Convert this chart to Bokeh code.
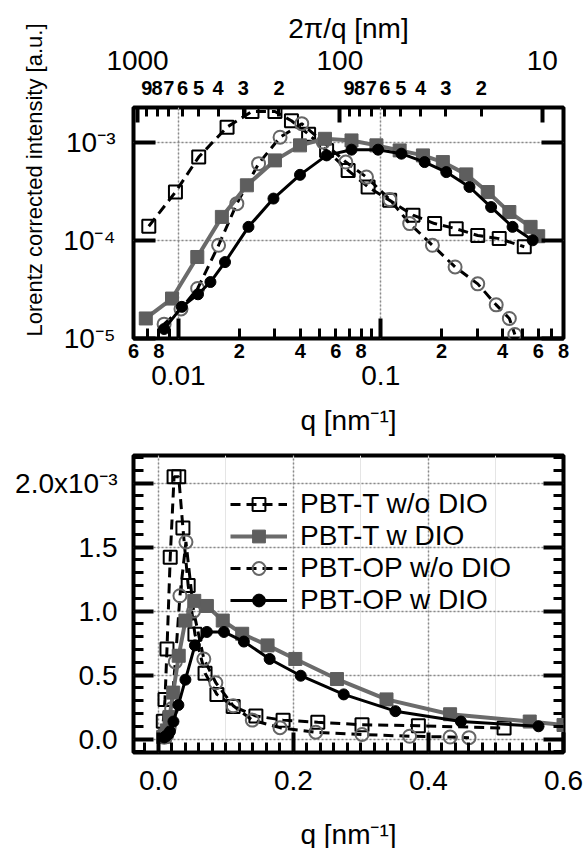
import math
from bokeh.plotting import figure
from bokeh.layouts import column
from bokeh.models import (LogAxis, LinearAxis, FixedTicker, CustomJSTickFormatter, Grid,
                          Legend, LegendItem, Range1d, Title)
from bokeh.embed import file_html
from bokeh.resources import INLINE

# ---------------- data (q in nm^-1, Lorentz corrected intensity in a.u.) ----------------
series_names = ["PBT-T w/o DIO", "PBT-T w DIO", "PBT-OP w/o DIO", "PBT-OP w DIO"]

q_t_wo = [0.00714, 0.00967, 0.0126, 0.0174, 0.0231, 0.0300, 0.0362, 0.0440, 0.0540, 0.0690,
          0.0866, 0.1107, 0.1443, 0.1846, 0.236, 0.3015, 0.385, 0.512]
I_t_wo = [1.39e-4, 3.10e-4, 7.04e-4, 1.42e-3, 2.05e-3, 2.05e-3, 1.65e-3, 1.20e-3, 8.2e-4, 5.15e-4,
          3.49e-4, 2.55e-4, 1.80e-4, 1.48e-4, 1.31e-4, 1.12e-4, 1.04e-4, 8.6e-5]

q_t_w = [0.0069, 0.0093, 0.0124, 0.0164, 0.0218, 0.0300, 0.0399, 0.0530, 0.0717, 0.0952,
         0.124, 0.1616, 0.2027, 0.2644, 0.3378, 0.432, 0.55, 0.60]
I_t_w = [1.6e-5, 2.55e-5, 6.76e-5, 1.73e-4, 3.63e-4, 6.51e-4, 9.26e-4, 1.08e-3, 1.04e-3, 9.26e-4,
         8.23e-4, 7.32e-4, 6.26e-4, 4.69e-4, 3.10e-4, 1.94e-4, 1.37e-4, 1.1e-4]

q_op_wo = [0.0085, 0.0103, 0.01245, 0.0158, 0.01945, 0.0249, 0.0318, 0.0407, 0.052, 0.0672,
           0.085, 0.1107, 0.139, 0.180, 0.233, 0.3015, 0.372, 0.432, 0.46]
I_op_wo = [1.4e-5, 2.0e-5, 3.23e-5, 8.9e-5, 2.36e-4, 6.03e-4, 1.12e-3, 1.54e-3, 1.0e-3, 6.26e-4,
           4.4e-4, 2.6e-4, 1.48e-4, 8.9e-5, 5.35e-5, 3.6e-5, 2.2e-5, 1.6e-5, 1.1e-5]

q_op_w = [0.0085, 0.0104, 0.0125, 0.0144, 0.0170, 0.0222, 0.0295, 0.0399, 0.0540, 0.0717,
          0.0970, 0.1265, 0.1647, 0.2107, 0.2744, 0.351, 0.448, 0.563]
I_op_w = [1.25e-5, 2.1e-5, 2.82e-5, 3.76e-5, 6.0e-5, 1.37e-4, 2.66e-4, 4.64e-4, 7.32e-4, 8.37e-4,
          8.37e-4, 7.62e-4, 6.26e-4, 4.95e-4, 3.49e-4, 2.18e-4, 1.37e-4, 1.0e-4]

# ---------------- ticks / tick labels ----------------
log_x_major = [0.01, 0.1]
log_x_major_labels = ["0.01", "0.1"]
log_x_minor = [0.006, 0.007, 0.008, 0.009, 0.02, 0.03, 0.04, 0.05, 0.06, 0.07, 0.08, 0.09,
               0.2, 0.3, 0.4, 0.5, 0.6, 0.7, 0.8]
log_x_minor_label_pos = [0.006, 0.008, 0.02, 0.04, 0.06, 0.08, 0.2, 0.4, 0.6, 0.8]
log_x_minor_labels = ["6", "8", "2", "4", "6", "8", "2", "4", "6", "8"]

top_major_nm = [1000, 100, 10]
top_major_labels = ["1000", "100", "10"]
top_minor_nm = [900, 800, 700, 600, 500, 400, 300, 200, 90, 80, 70, 60, 50, 40, 30, 20]
top_minor_labels = ["9", "8", "7", "6", "5", "4", "3", "2", "9", "8", "7", "6", "5", "4", "3", "2"]

log_y_ticks = [1e-5, 1e-4, 1e-3]
log_y_labels = ["10\u207b\u2075", "10\u207b\u2074", "10\u207b\u00b3"]

lin_x_ticks = [0.0, 0.2, 0.4, 0.6]
lin_x_labels = ["0.0", "0.2", "0.4", "0.6"]
lin_x_minor = [round(-0.02 + 0.02 * i, 2) for i in range(32)]
lin_y_ticks = [0.0, 0.5e-3, 1.0e-3, 1.5e-3, 2.0e-3]
lin_y_labels = ["0.0", "0.5", "1.0", "1.5", "2.0x10\u207b\u00b3"]
lin_y_minor = [round(-0.1e-3 + 0.1e-3 * i, 6) for i in range(24)]

FONT = "Liberation Sans"
GRID = dict(grid_line_color="#8a8a8a", grid_line_dash="2 2", grid_line_width=1.5)


def label_formatter(labels):
    return CustomJSTickFormatter(args=dict(labels=labels), code="return labels[index];")


def make_axis(cls, ticks, minor=(), labels=None, major_in=0, minor_in=0, size="28px",
              bold=False, standoff=0, axis_label=None, axis_label_standoff=0):
    ax = cls(ticker=FixedTicker(ticks=list(ticks), minor_ticks=list(minor)),
             formatter=label_formatter(labels if labels is not None else [""] * len(ticks)))
    ax.axis_line_color = None
    ax.major_tick_in = major_in
    ax.major_tick_out = 0
    ax.minor_tick_in = minor_in
    ax.minor_tick_out = 0
    ax.major_tick_line_width = 4 if major_in else 0
    ax.minor_tick_line_width = 3 if minor_in else 0
    ax.major_tick_line_color = "black" if major_in else None
    ax.minor_tick_line_color = "black" if minor_in else None
    ax.major_label_text_font = FONT
    ax.major_label_text_font_size = size if labels is not None else "0px"
    ax.major_label_text_font_style = "bold" if bold else "normal"
    ax.major_label_text_color = "black"
    ax.major_label_standoff = standoff
    if axis_label:
        ax.axis_label = axis_label
        ax.axis_label_standoff = axis_label_standoff
        ax.axis_label_text_font = FONT
        ax.axis_label_text_font_size = "28px"
        ax.axis_label_text_font_style = "normal"
        ax.axis_label_text_color = "black"
    return ax


def base_style(p):
    p.outline_line_color = "black"
    p.outline_line_width = 4
    p.background_fill_color = "white"
    p.border_fill_color = "white"


def draw_series(p):
    r = {}
    r["l1"] = p.line(q_t_wo, I_t_wo, line_color="black", line_width=3, line_dash="10 6")
    r["m1"] = p.scatter(q_t_wo, I_t_wo, marker="square", size=13, fill_color=None,
                        line_color="black", line_width=2)
    r["l3"] = p.line(q_op_wo, I_op_wo, line_color="black", line_width=3, line_dash="10 6")
    r["m3"] = p.scatter(q_op_wo, I_op_wo, marker="circle", size=13, fill_color=None,
                        line_color="#666666", line_width=2)
    r["l2"] = p.line(q_t_w, I_t_w, line_color="#6b6b6b", line_width=4)
    r["m2"] = p.scatter(q_t_w, I_t_w, marker="square", size=13, fill_color="#5e5e5e",
                        line_color="#5e5e5e")
    r["l4"] = p.line(q_op_w, I_op_w, line_color="black", line_width=3)
    r["m4"] = p.scatter(q_op_w, I_op_w, marker="circle", size=11, fill_color="black",
                        line_color="black")
    return r


# ================= top panel: log-log =================
X1 = (0.006, 0.8)
Y1 = (1.0e-5, 2.25e-3)
p1 = figure(x_axis_type="log", y_axis_type="log", x_range=Range1d(*X1), y_range=Range1d(*Y1),
            frame_width=430, frame_height=231, min_border_left=133, min_border_right=20,
            min_border_top=107, min_border_bottom=100, x_axis_location=None, y_axis_location=None,
            toolbar_location=None, output_backend="svg")
base_style(p1)
p1.add_layout(Grid(dimension=0, ticker=FixedTicker(ticks=log_x_major), **GRID))
p1.add_layout(Grid(dimension=1, ticker=FixedTicker(ticks=log_y_ticks[1:]), **GRID))

# bottom (q) axis: tick marks, minor-value row, decade row + title
p1.add_layout(make_axis(LogAxis, log_x_major, log_x_minor, major_in=20, minor_in=10), "below")
p1.add_layout(make_axis(LogAxis, log_x_minor_label_pos, labels=log_x_minor_labels, size="20px",
                        bold=True, standoff=5), "below")
p1.add_layout(make_axis(LogAxis, log_x_major, labels=log_x_major_labels, standoff=5,
                        axis_label="q [nm\u207b\u00b9]", axis_label_standoff=17), "below")

# top (2pi/q) axis
top_major_q = [2 * math.pi / n for n in top_major_nm]
top_minor_q = [2 * math.pi / n for n in top_minor_nm]
p1.add_layout(make_axis(LogAxis, top_major_q, top_minor_q, major_in=15, minor_in=9), "above")
p1.add_layout(make_axis(LogAxis, top_minor_q, labels=top_minor_labels, size="20px", bold=True,
                        standoff=13), "above")
p1.add_layout(make_axis(LogAxis, top_major_q, labels=top_major_labels, standoff=8,
                        axis_label="2\u03c0/q [nm]", axis_label_standoff=4), "above")

# left / right intensity axes
p1.add_layout(make_axis(LogAxis, log_y_ticks, labels=log_y_labels, major_in=22, standoff=18),
              "left")
p1.add_layout(make_axis(LogAxis, log_y_ticks, major_in=22), "right")
p1.add_layout(Title(text="Lorentz corrected intensity [a.u.]", align="right", offset=-84,
                    standoff=28, text_font=FONT, text_font_size="22px",
                    text_font_style="normal", text_color="black"), "left")

draw_series(p1)

# ================= bottom panel: linear =================
X2 = (-0.037, 0.6)
Y2 = (-0.105e-3, 2.216e-3)
p2 = figure(x_range=Range1d(*X2), y_range=Range1d(*Y2),
            frame_width=430, frame_height=297, min_border_left=133, min_border_right=20,
            min_border_top=17, min_border_bottom=94, x_axis_location=None, y_axis_location=None,
            toolbar_location=None, output_backend="svg")
base_style(p2)
p2.add_layout(Grid(dimension=0, ticker=FixedTicker(ticks=lin_x_ticks[:3]), **GRID))
p2.add_layout(Grid(dimension=1, ticker=FixedTicker(ticks=lin_y_ticks), **GRID))

p2.add_layout(make_axis(LinearAxis, lin_x_ticks, lin_x_minor, labels=lin_x_labels, major_in=20,
                        minor_in=10, standoff=18, axis_label="q [nm\u207b\u00b9]",
                        axis_label_standoff=26), "below")
p2.add_layout(make_axis(LinearAxis, lin_y_ticks, lin_y_minor, labels=lin_y_labels, major_in=20,
                        minor_in=10, standoff=16), "left")
p2.add_layout(make_axis(LinearAxis, lin_y_ticks, lin_y_minor, major_in=20, minor_in=10), "right")

r = draw_series(p2)

legend = Legend(items=[
    LegendItem(label=series_names[0], renderers=[r["l1"], r["m1"]]),
    LegendItem(label=series_names[1], renderers=[r["l2"], r["m2"]]),
    LegendItem(label=series_names[2], renderers=[r["l3"], r["m3"]]),
    LegendItem(label=series_names[3], renderers=[r["l4"], r["m4"]]),
], location=(97, 136), orientation="vertical", glyph_width=57, glyph_height=32,
    label_height=32, spacing=0, padding=0, margin=0, label_standoff=13,
    border_line_color=None, background_fill_alpha=0, label_text_font=FONT,
    label_text_font_size="28px", label_text_color="black")
p2.add_layout(legend)

layout = column(p1, p2, spacing=0)
open("out.html", "w").write(file_html(layout, INLINE))
